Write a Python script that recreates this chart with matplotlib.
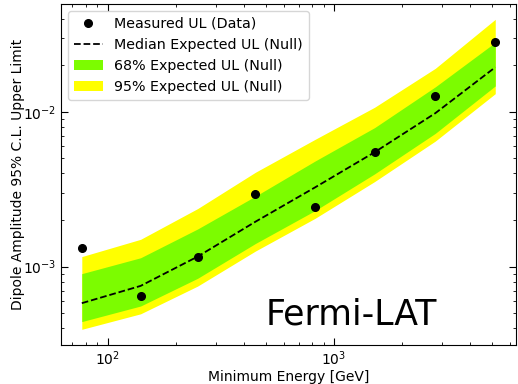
import numpy as np
import matplotlib.pyplot as plt

# minimum energy bins [GeV]
energy = [77, 140, 250, 450, 825, 1510, 2800, 5150]

measured = [1.32e-3, 6.5e-4, 1.16e-3, 2.93e-3, 2.43e-3, 5.47e-3, 1.27e-2, 2.83e-2]
median = [5.8e-4, 7.5e-4, 1.16e-3, 1.95e-3, 3.25e-3, 5.48e-3, 9.8e-3, 1.94e-2]
band68_hi = [9.0e-4, 1.14e-3, 1.75e-3, 2.85e-3, 4.81e-3, 7.9e-3, 1.45e-2, 2.81e-2]
band68_lo = [4.41e-4, 5.56e-4, 8.4e-4, 1.41e-3, 2.30e-3, 3.97e-3, 7.26e-3, 1.47e-2]
band95_hi = [1.16e-3, 1.50e-3, 2.37e-3, 4.07e-3, 6.64e-3, 1.07e-2, 1.91e-2, 3.96e-2]
band95_lo = [3.93e-4, 4.95e-4, 7.48e-4, 1.26e-3, 2.05e-3, 3.54e-3, 6.47e-3, 1.31e-2]

fig = plt.figure(figsize=(5.18, 3.84), dpi=100)
ax = fig.add_axes([0.118, 0.102, 0.878, 0.888])

f95 = ax.fill_between(energy, band95_lo, band95_hi, color='yellow', lw=0,
                      label='95% Expected UL (Null)')
f68 = ax.fill_between(energy, band68_lo, band68_hi, color='lawngreen', lw=0,
                      label='68% Expected UL (Null)')
med, = ax.plot(energy, median, 'k--', lw=1.3, label='Median Expected UL (Null)')
pts, = ax.plot(energy, measured, 'ko', ms=5.5, ls='none', label='Measured UL (Data)')

ax.set_xscale('log')
ax.set_yscale('log')
ax.tick_params(which='both', direction='in', top=True, right=True)
ax.tick_params(which='major', length=5)
ax.tick_params(which='minor', length=2.5)

ax.set_xlabel('Minimum Energy [GeV]', labelpad=1)
ax.set_ylabel('Dipole Amplitude 95% C.L. Upper Limit', labelpad=-1.5)

ax.legend(handles=[pts, med, f68, f95], loc='upper left', fontsize=10.3)
ax.text(0.638, 0.088, 'Fermi-LAT', transform=ax.transAxes, fontsize=25,
        ha='center', va='center')

fig.savefig('out.png', dpi=100)
